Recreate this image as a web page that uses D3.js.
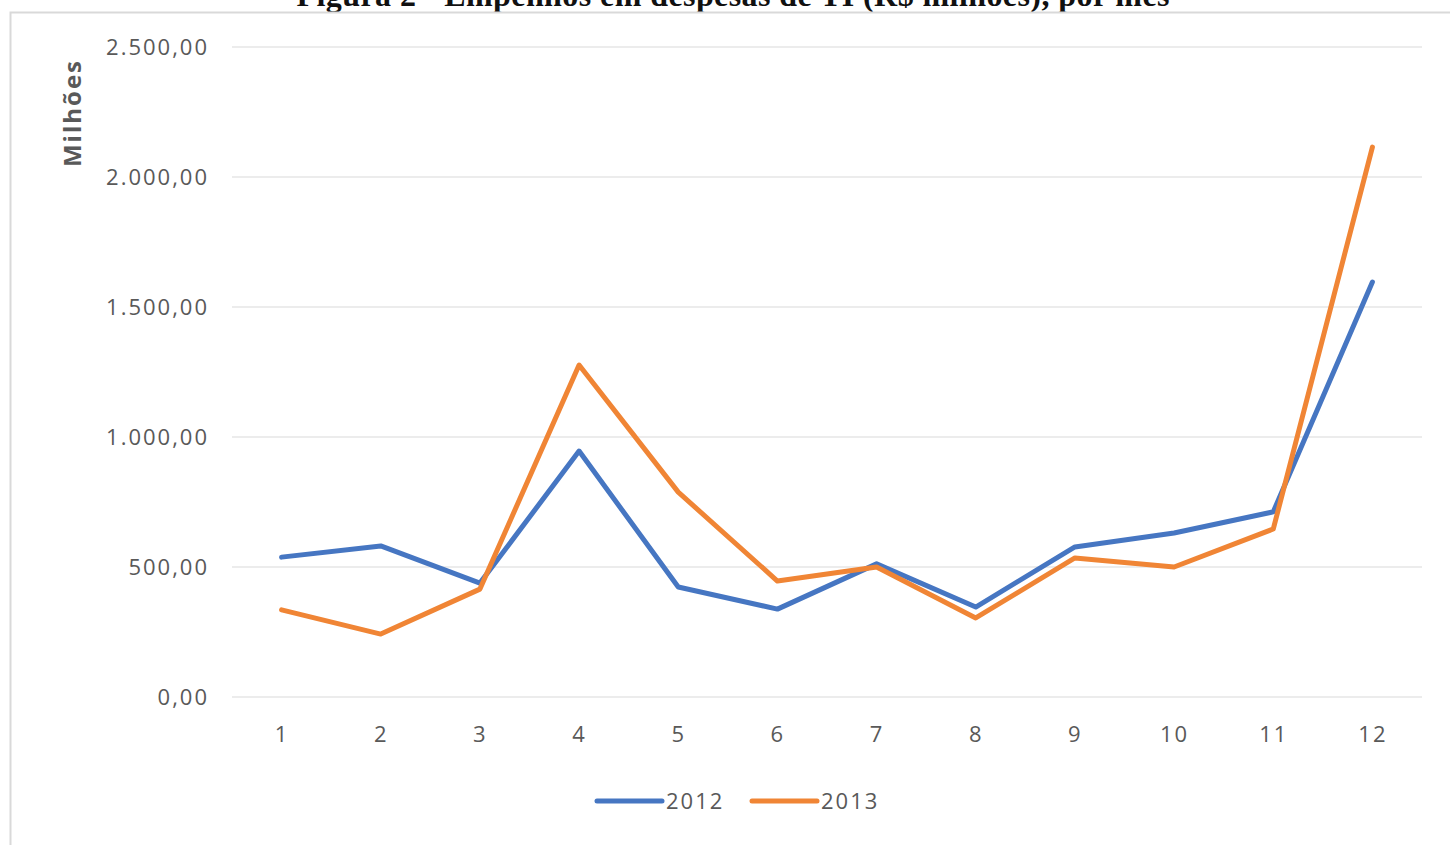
<!DOCTYPE html>
<html><head><meta charset="utf-8">
<script src="https://cdn.jsdelivr.net/npm/d3@7"></script>
<style>body{margin:0;background:#fff;}svg{display:block;}</style>
</head><body>
<svg id="c" width="1450" height="845"></svg>
<script>
const months = ["1","2","3","4","5","6","7","8","9","10","11","12"];
const values2012 = [538, 581, 438, 946, 423, 338, 512, 346, 577, 631, 712, 1596];
const values2013 = [335, 242, 415, 1277, 788, 446, 500, 304, 535, 500, 646, 2115];
const seriesNames = ["2012", "2013"];
const seriesColors = ["#4676C2", "#F08535"];
const yTicks = [0, 500, 1000, 1500, 2000, 2500];
const title = "Figura 2 - Empenhos em despesas de TI (R$ milhões), por mês";
const yLabel = "Milhões";

const svg = d3.select("#c");
const font = "'Open Sans', Lato, sans-serif";

// title (cut off at top, as in the reference)
svg.append("text").attr("x", 733).attr("y", 6).attr("text-anchor", "middle")
  .attr("font-family", "'Liberation Serif', serif").attr("font-weight", "bold")
  .attr("font-size", 32).attr("fill", "#111").attr("textLength", 873).text(title);

// chart frame
svg.append("rect").attr("x", 10.5).attr("y", 12.5).attr("width", 1460).attr("height", 860)
  .attr("fill", "#fff").attr("stroke", "#d9d9d9").attr("stroke-width", 2);

const x = d3.scalePoint().domain(months).range([232, 1422]).padding(0.5);
const y = d3.scaleLinear().domain([0, 2500]).range([697, 47]);

// gridlines
svg.append("g").selectAll("line").data(yTicks).join("line")
  .attr("x1", 232).attr("x2", 1422)
  .attr("y1", d => y(d)).attr("y2", d => y(d))
  .attr("stroke", "#e6e6e6").attr("stroke-width", 1.5);

const fmt = d => d3.format(",.2f")(d).replace(/,/g, "#").replace(".", ",").replace(/#/g, ".");

// y axis labels
const yAxis = d3.axisLeft(y).tickValues(yTicks).tickFormat(fmt).tickSize(0).tickPadding(0);
const gy = svg.append("g").attr("transform", "translate(209,0)").call(yAxis);
gy.select(".domain").remove();
gy.selectAll("text").attr("font-family", font).attr("font-size", 22)
  .attr("letter-spacing", 2).attr("fill", "#595959");

// x axis labels
const xAxis = d3.axisBottom(x).tickSize(0).tickPadding(0);
const gx = svg.append("g").attr("transform", "translate(0,726)").call(xAxis);
gx.select(".domain").remove();
gx.selectAll("text").attr("font-family", font).attr("font-size", 22)
  .attr("letter-spacing", 2).attr("fill", "#595959");

// y label
svg.append("text").attr("transform", "translate(81,113) rotate(-90)")
  .attr("text-anchor", "middle").attr("font-family", font).attr("font-weight", "bold")
  .attr("font-size", 24).attr("letter-spacing", 2).attr("fill", "#595959").text(yLabel);

// lines
const line = d3.line().x((d, i) => x(months[i])).y(d => y(d));
[values2012, values2013].forEach((vals, k) => {
  svg.append("path").datum(vals).attr("d", line).attr("fill", "none")
    .attr("stroke", seriesColors[k]).attr("stroke-width", 5)
    .attr("stroke-linejoin", "round").attr("stroke-linecap", "round");
});

// legend
const lx = [597, 752];
seriesNames.forEach((n, k) => {
  svg.append("line").attr("x1", lx[k]).attr("x2", lx[k] + 65).attr("y1", 801).attr("y2", 801)
    .attr("stroke", seriesColors[k]).attr("stroke-width", 5).attr("stroke-linecap", "round");
  svg.append("text").attr("x", lx[k] + 69).attr("y", 809).attr("font-family", font)
    .attr("font-size", 22).attr("letter-spacing", 2).attr("fill", "#595959").text(n);
});
</script>
</body></html>
